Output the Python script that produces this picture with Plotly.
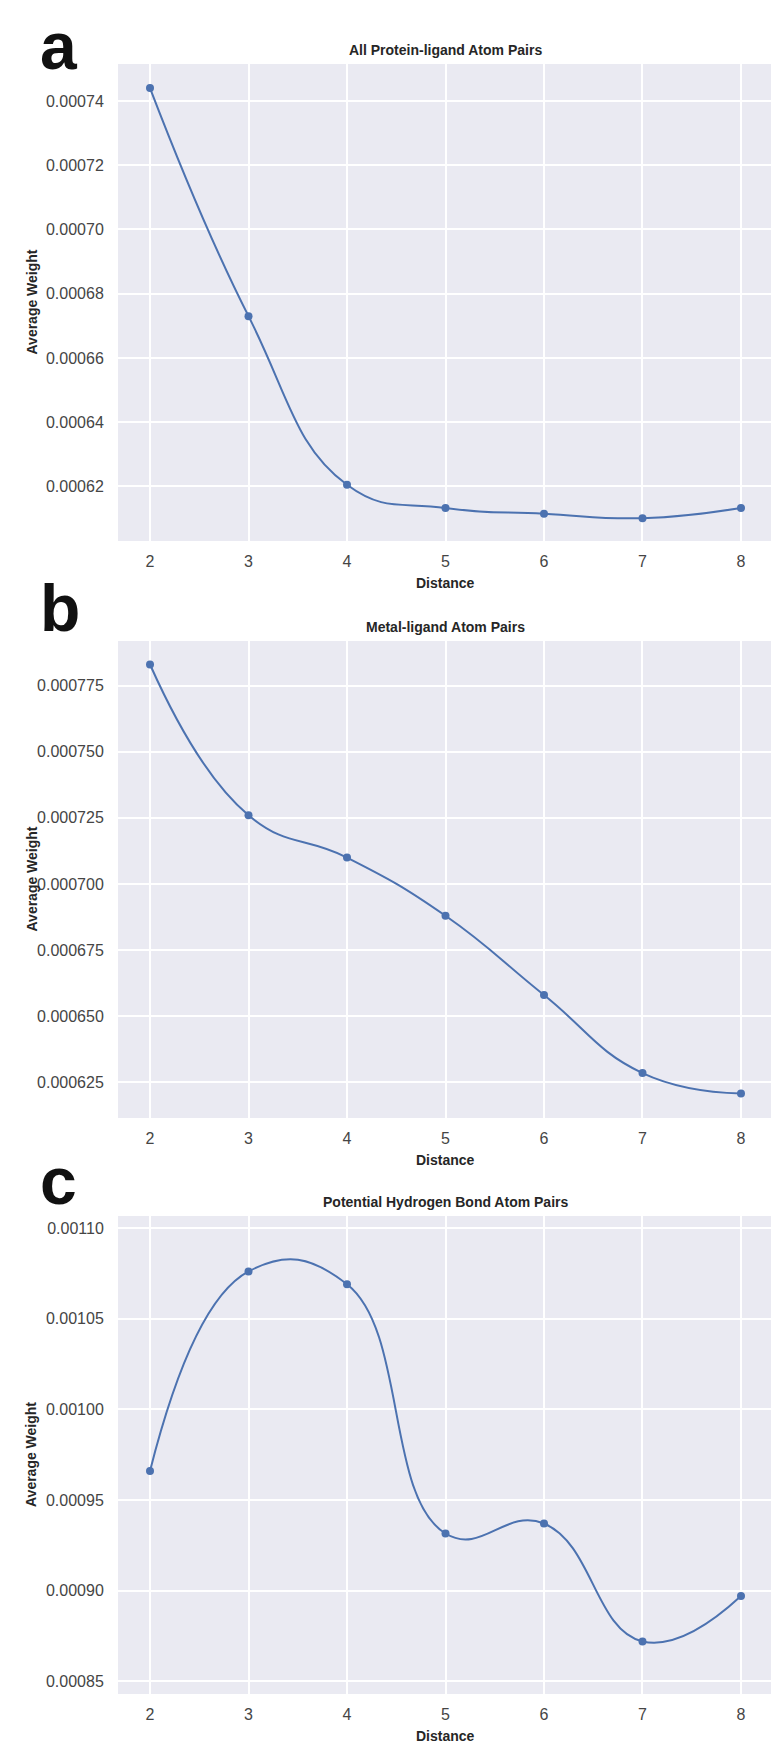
import plotly.graph_objects as go
from plotly.subplots import make_subplots

# --- data ---
distance = [2, 3, 4, 5, 6, 7, 8]
all_pairs = [0.000744, 0.000673, 0.0006205, 0.0006133, 0.0006115, 0.0006101, 0.0006133]
metal_pairs = [0.000783, 0.000726, 0.000710, 0.000688, 0.000658, 0.0006285, 0.0006208]
hbond_pairs = [0.000966, 0.001076, 0.001069, 0.0009315, 0.000937, 0.000872, 0.000897]

panel_titles = ["All Protein-ligand Atom Pairs", "Metal-ligand Atom Pairs",
                "Potential Hydrogen Bond Atom Pairs"]
panel_letters = ["a", "b", "c"]
x_ticks = [2, 3, 4, 5, 6, 7, 8]
a_ticks = [0.00062, 0.00064, 0.00066, 0.00068, 0.00070, 0.00072, 0.00074]
b_ticks = [0.000625, 0.000650, 0.000675, 0.000700, 0.000725, 0.000750, 0.000775]
c_ticks = [0.00085, 0.00090, 0.00095, 0.00100, 0.00105, 0.00110]

W, H = 779, 1741
BLUE = "#4C72B0"
BG = "#EAEAF2"
TICK_FONT = dict(family="Liberation Sans, Arial, sans-serif", size=16, color="#454545")
LABEL_FONT = dict(family="Liberation Sans, Arial, sans-serif", size=14, color="#262626")


def py(px_y):
    # pixel row (from top) -> paper coordinate
    return 1 - px_y / H


def px_x(px):
    return px / W


# plot areas in pixels (top, bottom)
areas = [(56, 533), (633, 1110), (1208, 1686)]
x_left, x_right = 110, 765

fig = make_subplots(rows=3, cols=1)

series = [all_pairs, metal_pairs, hbond_pairs]
ranges = [[0.000603, 0.0007515], [0.0006115, 0.0007919], [0.000843, 0.0011066]]
ticks = [a_ticks, b_ticks, c_ticks]
fmts = [".5f", ".6f", ".5f"]

annotations = []
for i in range(3):
    r = i + 1
    top, bottom = areas[i]
    fig.add_trace(go.Scatter(
        x=distance, y=series[i], mode="lines+markers",
        line=dict(color=BLUE, width=2, shape="spline", smoothing=1.3),
        marker=dict(color=BLUE, size=8),
        showlegend=False,
    ), row=r, col=1)

    fig.update_xaxes(domain=[px_x(x_left), px_x(x_right)], range=[1.675, 8.325],
                     tickvals=x_ticks, showgrid=True, gridcolor="white", gridwidth=1.5,
                     zeroline=False, showline=False, ticks="outside", ticklen=6,
                     tickcolor="rgba(0,0,0,0)", tickfont=TICK_FONT, row=r, col=1)
    fig.update_yaxes(domain=[py(bottom), py(top)], range=ranges[i],
                     tickvals=ticks[i], tickformat=fmts[i], showgrid=True,
                     gridcolor="white", gridwidth=1.5, zeroline=False, showline=False,
                     ticks="outside", ticklen=10, tickcolor="rgba(0,0,0,0)",
                     tickfont=TICK_FONT, row=r, col=1)

    mid_x = px_x((x_left + x_right) / 2)
    annotations.append(dict(text="<b>" + panel_titles[i] + "</b>", x=mid_x, y=py(top - 14),
                            xref="paper", yref="paper", showarrow=False,
                            xanchor="center", yanchor="middle", font=LABEL_FONT))
    annotations.append(dict(text="<b>Distance</b>", x=mid_x, y=py(bottom + 42),
                            xref="paper", yref="paper", showarrow=False,
                            xanchor="center", yanchor="middle", font=LABEL_FONT))
    annotations.append(dict(text="<b>Average Weight</b>", x=px_x(23), y=py((top + bottom) / 2),
                            xref="paper", yref="paper", showarrow=False, textangle=-90,
                            xanchor="center", yanchor="middle", font=LABEL_FONT))

# big panel letters, box kept inside the page
letter_pos = [0, 562, 1135]
for letter, yy in zip(panel_letters, letter_pos):
    annotations.append(dict(text="<b>" + letter + "</b>", x=px_x(31), y=py(yy),
                            xref="paper", yref="paper", showarrow=False,
                            xanchor="left", yanchor="top", borderpad=0,
                            font=dict(family="Liberation Sans, Arial, sans-serif",
                                      size=66, color="#111111")))

fig.update_layout(
    width=W, height=H,
    margin=dict(l=0, r=0, t=0, b=0),
    paper_bgcolor="white", plot_bgcolor=BG,
    annotations=annotations,
)

fig.write_html("out.html")
